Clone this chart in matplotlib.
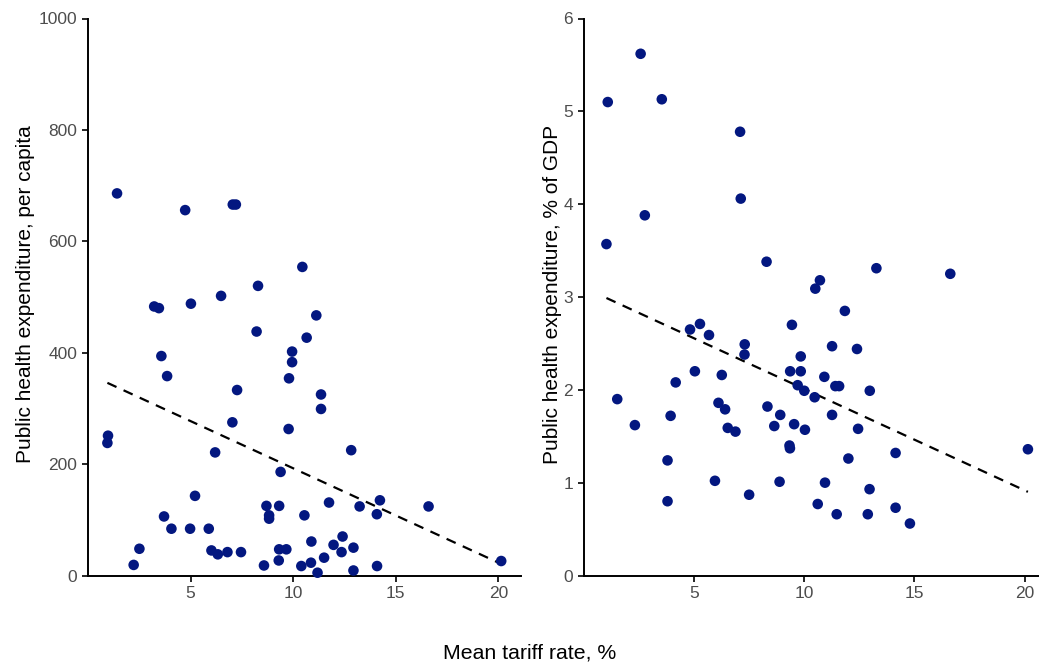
import numpy as np
import matplotlib
matplotlib.use("Agg")
import matplotlib.pyplot as plt

plt.rcParams['font.family'] = ['Liberation Sans', 'DejaVu Sans']

# Left panel: mean tariff rate (%) vs public health expenditure per capita
tariff_pc = [1.42, 4.74, 7.06, 7.21, 3.23, 3.46, 5.02, 6.49, 8.29, 10.45,
             11.13, 8.22, 10.66, 9.95, 9.95, 3.58, 3.86, 9.80, 7.27, 11.36,
             11.36, 7.04, 9.78, 0.98, 0.95, 6.20, 12.83, 9.39, 8.70, 9.32,
             8.83, 8.83, 10.55, 11.75, 13.24, 14.23, 14.08, 16.60, 20.14, 7.46,
             8.58, 9.32, 9.67, 9.30, 10.89, 10.40, 10.87, 11.19, 11.51, 11.97,
             12.36, 12.41, 12.94, 12.94, 14.09, 5.22, 3.71, 4.07, 4.98, 5.89,
             6.02, 6.33, 6.80, 2.51, 2.23]
health_pc = [686, 656, 666, 666, 483, 480, 488, 502, 520, 554,
             467, 438, 427, 402, 383, 394, 358, 354, 333, 325,
             299, 275, 263, 251, 238, 221, 225, 186, 125, 125,
             108, 102, 108, 131, 124, 135, 110, 124, 26, 42,
             18, 47, 47, 27, 61, 17, 23, 5, 32, 55,
             42, 70, 50, 9, 17, 143, 106, 84, 84, 84,
             45, 38, 42, 48, 19]

# Right panel: mean tariff rate (%) vs public health expenditure, % of GDP
tariff_gdp = [2.59, 1.10, 3.55, 7.10, 7.13, 2.78, 1.04, 8.30, 13.28, 10.72,
              10.51, 16.63, 11.85, 12.40, 12.98, 12.45, 12.01, 14.15, 20.15, 12.97,
              14.15, 12.89, 11.48, 14.80, 4.83, 5.28, 5.69, 7.31, 7.30, 9.45,
              9.85, 11.27, 9.37, 9.85, 5.05, 4.18, 6.27, 9.71, 10.01, 10.48,
              10.92, 11.42, 11.59, 1.53, 2.33, 3.95, 6.12, 6.42, 6.54, 6.89,
              8.34, 8.92, 8.65, 9.55, 10.04, 11.27, 9.34, 9.36, 3.81, 5.96,
              8.89, 10.95, 3.81, 7.51, 10.62]
health_gdp = [5.62, 5.10, 5.13, 4.78, 4.06, 3.88, 3.57, 3.38, 3.31, 3.18,
              3.09, 3.25, 2.85, 2.44, 1.99, 1.58, 1.26, 1.32, 1.36, 0.93,
              0.73, 0.66, 0.66, 0.56, 2.65, 2.71, 2.59, 2.49, 2.38, 2.70,
              2.36, 2.47, 2.20, 2.20, 2.20, 2.08, 2.16, 2.05, 1.99, 1.92,
              2.14, 2.04, 2.04, 1.90, 1.62, 1.72, 1.86, 1.79, 1.59, 1.55,
              1.82, 1.73, 1.61, 1.63, 1.57, 1.73, 1.40, 1.37, 1.24, 1.02,
              1.01, 1.00, 0.80, 0.87, 0.77]

x_label = "Mean tariff rate, %"
y_label_left = "Public health expenditure, per capita"
y_label_right = "Public health expenditure, % of GDP"

point_color = '#031780'
tick_color = '#4D4D4D'

fig = plt.figure(figsize=(10.39, 6.68), dpi=100)
ax1 = fig.add_axes([87.9 / 1039, 1 - 575.5 / 668, (520.7 - 87.9) / 1039, (575.5 - 18.5) / 668])
ax2 = fig.add_axes([583.5 / 1039, 1 - 575.5 / 668, (1038.5 - 583.5) / 1039, (575.5 - 18.5) / 668])


def style(ax):
    for s in ['top', 'right']:
        ax.spines[s].set_visible(False)
    for s in ['left', 'bottom']:
        ax.spines[s].set_linewidth(1.4)
        ax.spines[s].set_color('black')
    ax.tick_params(axis='both', which='major', length=4.5, width=1.2, color='black',
                   labelsize=12.5, labelcolor=tick_color, pad=3)


def draw(ax, x, y, xlim, ylim, yticks, ylab, label_x):
    x = np.asarray(x, float)
    y = np.asarray(y, float)
    ax.scatter(x, y, s=58, color=point_color, edgecolors='none', zorder=3, clip_on=False)
    b, a = np.polyfit(x, y, 1)
    xs = np.array([x.min(), x.max()])
    ax.plot(xs, a + b * xs, color='black', lw=1.6, linestyle=(0, (4.5, 3.5)), zorder=2)
    ax.set_xlim(*xlim)
    ax.set_ylim(*ylim)
    ax.set_xticks([5, 10, 15, 20])
    ax.set_yticks(yticks)
    ax.set_ylabel(ylab, fontsize=15, color='black', va='center')
    ax.yaxis.set_label_coords(label_x, 0.505)
    style(ax)


draw(ax1, tariff_pc, health_pc, (0, 21.09), (0, 1000), [0, 200, 400, 600, 800, 1000],
     y_label_left, -0.145)
draw(ax2, tariff_gdp, health_gdp, (0, 20.63), (0, 6), [0, 1, 2, 3, 4, 5, 6],
     y_label_right, -0.069)

fig.text(530 / 1039, 1 - 653 / 668, x_label, ha='center', va='center', fontsize=15.3, color='black')

fig.savefig('out.png', dpi=100, facecolor='white')
